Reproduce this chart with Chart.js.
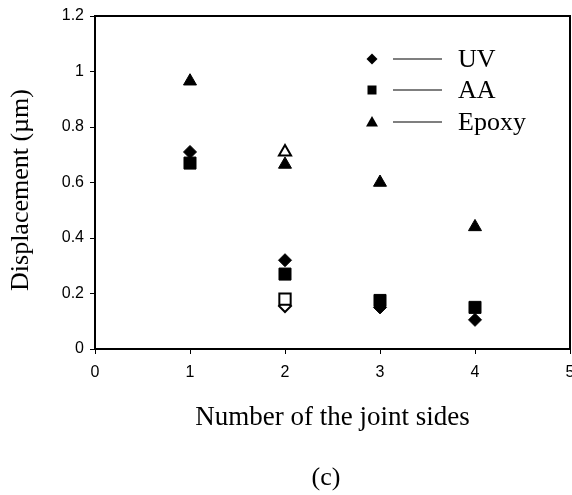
<!DOCTYPE html>
<html>
<head>
<meta charset="utf-8">
<script src="https://cdn.jsdelivr.net/npm/chart.js@4.4.0/dist/chart.umd.min.js"></script>
<style>
  html, body { margin: 0; padding: 0; background: #fff; }
  canvas { display: block; }
</style>
</head>
<body>
<canvas id="chart" width="572" height="495"></canvas>
<script>
// values
const jointSides = [1, 2, 3, 4];
const uvDisp = [0.71, 0.32, 0.15, 0.105];
const aaDisp = [0.67, 0.27, 0.175, 0.15];
const epoxyDisp = [0.965, 0.665, 0.60, 0.44];

// open markers, only at 2 sides
const openSides = [2];
const uvOpen = [0.155];
const aaOpen = [0.18];
const epoxyOpen = [0.71];

const seriesNames = ['UV', 'AA', 'Epoxy'];
const xTickLabels = ['0', '1', '2', '3', '4', '5'];
const yTickLabels = ['0', '0.2', '0.4', '0.6', '0.8', '1', '1.2'];

const SERIF = "'Liberation Serif', 'Times New Roman', serif";
const SANS = "'Liberation Sans', Arial, sans-serif";

function pts(xs, ys) {
    return xs.map((x, i) => ({ x: x, y: ys[i] }));
}

function filled(label, data, style, radius) {
    return {
        label: label, data: data, showLine: false,
        pointStyle: style, pointRadius: radius, pointHoverRadius: radius,
        backgroundColor: '#000', borderColor: '#000', borderWidth: 1
    };
}

function open(label, data, style, radius) {
    return {
        label: label, data: data, showLine: false,
        pointStyle: style, pointRadius: radius, pointHoverRadius: radius,
        backgroundColor: '#fff', borderColor: '#000', borderWidth: 2
    };
}

// legend glyphs, drawn inside the plot area like the original
function glyph(ctx, style, x, y) {
    ctx.beginPath();
    if (style === 'rectRot') {
        ctx.moveTo(x, y - 5.5); ctx.lineTo(x + 5.5, y); ctx.lineTo(x, y + 5.5); ctx.lineTo(x - 5.5, y);
    } else if (style === 'rect') {
        ctx.rect(x - 4.5, y - 4.5, 9, 9);
    } else {
        ctx.moveTo(x, y - 6); ctx.lineTo(x + 6, y + 4.5); ctx.lineTo(x - 6, y + 4.5);
    }
    ctx.closePath();
    ctx.fill();
}

const decor = {
    id: 'decor',
    afterDraw(chart) {
        const ctx = chart.ctx;
        const a = chart.chartArea;
        ctx.save();
        ctx.strokeStyle = '#000';
        ctx.lineWidth = 2;
        ctx.strokeRect(a.left, a.top, a.right - a.left, a.bottom - a.top);

        const styles = ['rectRot', 'rect', 'triangle'];
        const rowY = [a.top + 43, a.top + 74, a.top + 106];
        ctx.font = '26px ' + SERIF;
        ctx.textBaseline = 'middle';
        ctx.textAlign = 'left';
        seriesNames.forEach((name, i) => {
            ctx.fillStyle = '#000';
            glyph(ctx, styles[i], 372, rowY[i]);
            ctx.strokeStyle = '#555';
            ctx.lineWidth = 1.5;
            ctx.beginPath();
            ctx.moveTo(393, rowY[i]);
            ctx.lineTo(442, rowY[i]);
            ctx.stroke();
            ctx.fillStyle = '#000';
            ctx.fillText(name, 458, rowY[i] + 1);
        });

        ctx.textAlign = 'center';
        ctx.font = '27px ' + SERIF;
        ctx.fillText('Number of the joint sides', (a.left + a.right) / 2, 418);
        ctx.font = '26px ' + SERIF;
        ctx.fillText('(c)', 326, 478);

        ctx.translate(21, 190);
        ctx.rotate(-Math.PI / 2);
        ctx.fillText('Displacement (\u00b5m)', 0, 0);
        ctx.restore();
    }
};

new Chart(document.getElementById('chart'), {
    type: 'scatter',
    data: {
        datasets: [
            filled(seriesNames[0], pts(jointSides, uvDisp), 'rectRot', 6.5),
            filled(seriesNames[1], pts(jointSides, aaDisp), 'rect', 8.5),
            filled(seriesNames[2], pts(jointSides, epoxyDisp), 'triangle', 7.5),
            open(seriesNames[1] + ' open', pts(openSides, aaOpen), 'rect', 8),
            open(seriesNames[0] + ' open', pts(openSides, uvOpen), 'rectRot', 6),
            open(seriesNames[2] + ' open', pts(openSides, epoxyOpen), 'triangle', 7)
        ]
    },
    options: {
        responsive: false,
        animation: false,
        devicePixelRatio: 1,
        layout: { autoPadding: false, padding: { top: 16, right: 2, left: 0, bottom: 0 } },
        plugins: {
            legend: { display: false },
            tooltip: { enabled: false }
        },
        scales: {
            x: {
                type: 'linear', min: 0, max: 5,
                afterFit(scale) { scale.height = 146; scale.paddingRight = 0; scale.paddingLeft = 0; },
                grid: { drawOnChartArea: false, drawTicks: true, tickLength: 5, color: '#000', lineWidth: 1 },
                border: { color: '#000', width: 2 },
                ticks: {
                    stepSize: 1, padding: 9, color: '#000', maxRotation: 0,
                    font: { family: SANS, size: 16 },
                    callback: (v, i) => xTickLabels[i]
                }
            },
            y: {
                type: 'linear', min: 0, max: 1.2,
                afterFit(scale) { scale.width = 95; },
                grid: { drawOnChartArea: false, drawTicks: true, tickLength: 5, color: '#000', lineWidth: 1 },
                border: { color: '#000', width: 2 },
                ticks: {
                    stepSize: 0.2, padding: 6, color: '#000',
                    font: { family: SANS, size: 16 },
                    callback: (v, i) => yTickLabels[i]
                }
            }
        }
    },
    plugins: [decor]
});
</script>
</body>
</html>
